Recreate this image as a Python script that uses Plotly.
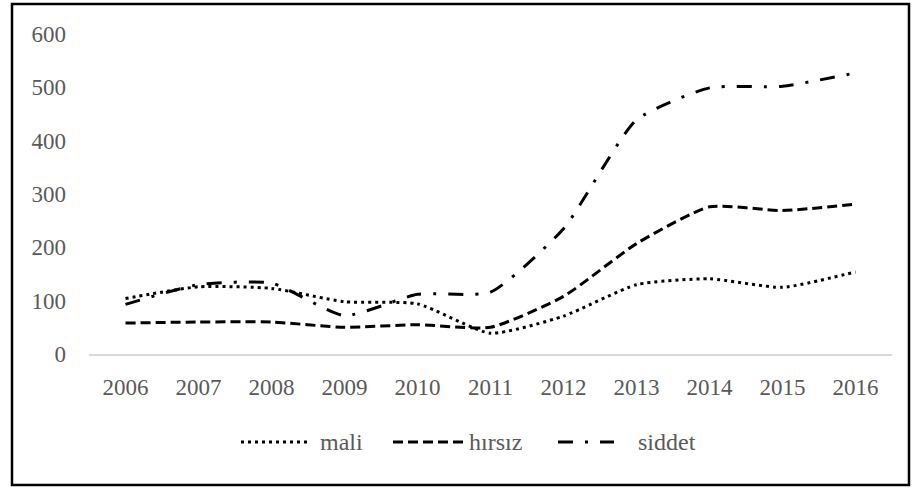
import plotly.graph_objects as go

years = ["2006", "2007", "2008", "2009", "2010", "2011", "2012", "2013", "2014", "2015", "2016"]
mali = [104, 126, 123, 98, 94, 39, 71, 130, 141, 125, 154]
hirsiz = [58, 60, 60, 50, 55, 50, 108, 207, 276, 269, 281]
siddet = [93, 130, 133, 72, 112, 116, 235, 439, 499, 502, 527]
y_ticks = [0, 100, 200, 300, 400, 500, 600]
series_names = ["mali", "hırsız", "siddet"]

FONT = "Palatino Linotype, Book Antiqua, Palatino, Liberation Serif, serif"
GREY = "#595959"
DASHES = ["3px,4px", "10px,5px", "15px,12px,3px,12px"]

W, H = 912, 488
L, R, T, B = 89, 20, 34, 134
pw, ph = W - L - R, H - T - B


def px_x(x):
    return (x - L) / pw


def px_y(y):
    return (H - B - y) / ph


fig = go.Figure()
for name, vals, dash in zip(series_names, [mali, hirsiz, siddet], DASHES):
    fig.add_trace(go.Scatter(
        x=years, y=vals, name=name, mode="lines", showlegend=False,
        line=dict(color="black", width=3, dash=dash, shape="spline", smoothing=0.55),
    ))

# outer frame
fig.add_shape(type="rect", xref="paper", yref="paper",
              x0=px_x(12), x1=px_x(909), y0=px_y(485), y1=px_y(4),
              line=dict(color="black", width=2.5), fillcolor="rgba(0,0,0,0)")

# legend (sample line + label)
legend_items = [(241, 307, 318), (393, 465, 467), (558, 614, 636)]
ly = px_y(442)
for (sx0, sx1, tx), name, dash in zip(legend_items, series_names, DASHES):
    fig.add_shape(type="line", xref="paper", yref="paper",
                  x0=px_x(sx0), x1=px_x(sx1), y0=ly, y1=ly,
                  line=dict(color="black", width=3, dash=dash))
    fig.add_annotation(xref="paper", yref="paper", x=px_x(tx), y=ly,
                       xanchor="left", yanchor="middle", showarrow=False,
                       text=name, font=dict(family=FONT, size=24, color=GREY))

fig.update_layout(
    width=W, height=H,
    margin=dict(l=L, r=R, t=T, b=B),
    paper_bgcolor="white", plot_bgcolor="white",
    font=dict(family=FONT, size=22, color=GREY),
    showlegend=False,
    xaxis=dict(type="category", range=[-0.5, 10.5], showgrid=False, zeroline=False,
               showline=True, linecolor="#d9d9d9", linewidth=1.5,
               ticks="", ticklabelstandoff=12,
               tickfont=dict(family=FONT, size=23, color=GREY)),
    yaxis=dict(range=[0, 600], tickvals=y_ticks, showgrid=False, zeroline=False,
               showline=False, ticks="", ticklabelstandoff=22,
               tickfont=dict(family=FONT, size=23, color=GREY)),
)

fig.write_html("out.html", config={"displayModeBar": False},
               post_script="document.body.style.margin='0px';")
